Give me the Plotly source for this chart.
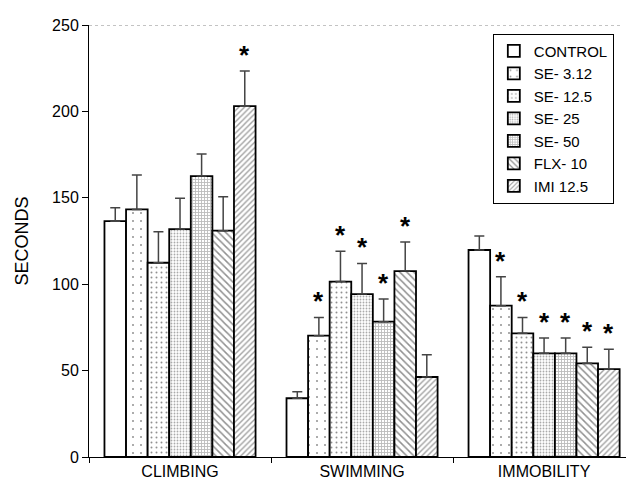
import plotly.graph_objects as go

categories = ["CLIMBING", "SWIMMING", "IMMOBILITY"]
groups = ["CONTROL", "SE- 3.12", "SE- 12.5", "SE- 25", "SE- 50", "FLX- 10", "IMI 12.5"]

# mean values [climbing, swimming, immobility] per group
means = {
    "CONTROL":  [136.5, 34.0, 119.8],
    "SE- 3.12": [143.3, 70.2, 87.6],
    "SE- 12.5": [112.4, 101.5, 71.6],
    "SE- 25":   [131.9, 94.3, 60.0],
    "SE- 50":   [162.6, 78.3, 60.0],
    "FLX- 10":  [131.0, 107.6, 54.2],
    "IMI 12.5": [203.0, 46.3, 50.9],
}
# SEM (upper error)
errors = {
    "CONTROL":  [7.8, 3.8, 8.1],
    "SE- 3.12": [19.9, 10.6, 16.7],
    "SE- 12.5": [18.0, 17.5, 9.2],
    "SE- 25":   [17.8, 17.7, 8.9],
    "SE- 50":   [12.7, 13.1, 8.9],
    "FLX- 10":  [19.6, 16.8, 9.3],
    "IMI 12.5": [20.4, 12.9, 11.4],
}
# significance flags
signif = {
    "CONTROL":  [0, 0, 0],
    "SE- 3.12": [0, 1, 1],
    "SE- 12.5": [0, 1, 1],
    "SE- 25":   [0, 1, 1],
    "SE- 50":   [0, 1, 1],
    "FLX- 10":  [0, 1, 1],
    "IMI 12.5": [1, 0, 1],
}

patterns = {
    "CONTROL":  dict(shape=""),
    "SE- 3.12": dict(shape=".", size=8, solidity=0.05, fgcolor="#222"),
    "SE- 12.5": dict(shape=".", size=5, solidity=0.12, fgcolor="#222"),
    "SE- 25":   dict(shape=".", size=3, solidity=0.3, fgcolor="#555"),
    "SE- 50":   dict(shape="+", size=3, solidity=0.5, fgcolor="#777"),
    "FLX- 10":  dict(shape="\\", size=5, solidity=0.3, fgcolor="#222"),
    "IMI 12.5": dict(shape="/", size=4, solidity=0.35, fgcolor="#444"),
}

BARGAP = 0.17
fig = go.Figure()
for g in groups:
    fig.add_trace(go.Bar(
        name=g, x=categories, y=means[g],
        marker=dict(color="white", line=dict(color="black", width=1.8), pattern=patterns[g]),
        error_y=dict(type="data", symmetric=False, array=errors[g],
                     arrayminus=[0, 0, 0], color="#444", thickness=1.5, width=5),
    ))

# asterisks
n = len(groups)
w = (1 - BARGAP) / n
for j, g in enumerate(groups):
    for i, c in enumerate(categories):
        if signif[g][i]:
            fig.add_annotation(x=i + (j - (n - 1) / 2) * w, y=means[g][i] + errors[g][i],
                               text="<b>*</b>", showarrow=False, yanchor="bottom", yshift=-1,
                               font=dict(size=26, color="black", family="Liberation Sans"))

fig.add_shape(type="line", xref="paper", yref="y", x0=0, x1=0.99, y0=250, y1=250,
              line=dict(color="#888", width=1, dash="dot"))

fig.update_layout(
    width=626, height=486,
    margin=dict(l=89, r=0, t=25, b=29, autoexpand=False),
    paper_bgcolor="white", plot_bgcolor="white",
    barmode="group", bargap=BARGAP, bargroupgap=0,
    font=dict(family="Liberation Sans", size=15, color="black"),
    showlegend=True,
    legend=dict(x=0.752, y=0.98, xanchor="left", yanchor="top",
                bordercolor="black", borderwidth=1, bgcolor="white",
                font=dict(size=15), tracegroupgap=0, itemwidth=30),
    xaxis=dict(range=[-0.5, 2.45], showline=True, linecolor="black", linewidth=1,
               ticks="outside", tickson="boundaries", ticklen=5, tickcolor="black",
               tickfont=dict(size=16), automargin=False),
    yaxis=dict(range=[0, 250], tickvals=[0, 50, 100, 150, 200, 250], showline=True,
               linecolor="black", linewidth=1, ticks="outside", ticklen=6,
               tickcolor="black", showgrid=False, zeroline=False,
               tickfont=dict(size=16), automargin=False,
               title=dict(text="SECONDS", font=dict(size=18), standoff=18)),
)

fig.write_html("out.html", config={"displayModeBar": False},
               post_script="document.body.style.margin='0';document.body.style.overflow='hidden';")
